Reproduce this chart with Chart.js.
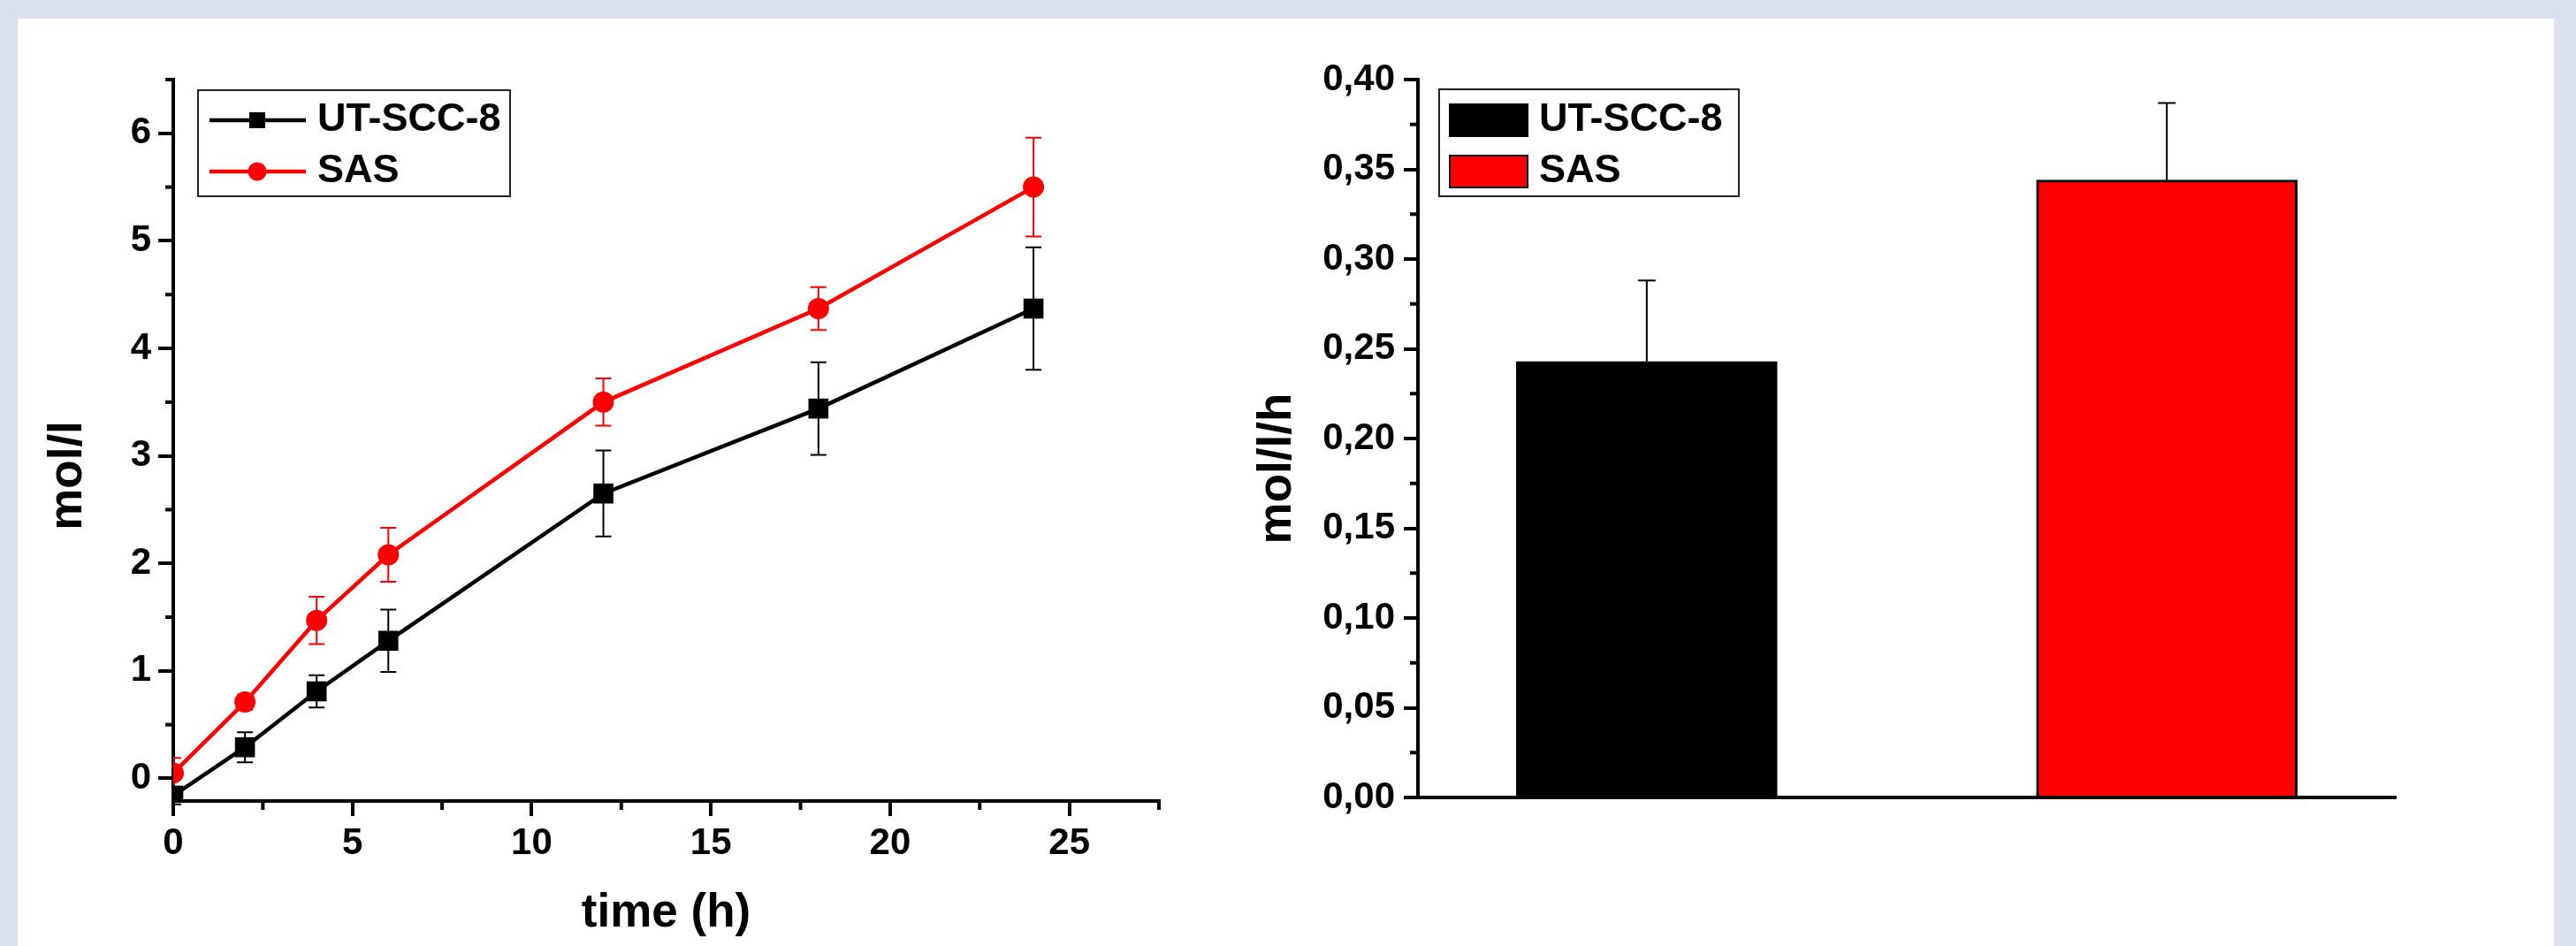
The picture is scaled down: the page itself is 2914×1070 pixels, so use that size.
<!DOCTYPE html>
<html>
<head>
<meta charset="utf-8">
<title>mol/l vs time</title>
<script src="https://cdn.jsdelivr.net/npm/chart.js@4.4.1/dist/chart.umd.min.js"></script>
<style>
  html, body { margin: 0; padding: 0; }
  body { width: 2914px; height: 1070px; background: #dae0ec; position: relative; overflow: hidden; }
  #panel { position: absolute; left: 20px; top: 21px; width: 2869px; height: 1049px; background: #fff; }
  canvas { position: absolute; top: 21px; }
  #lineChart { left: 20px; }
  #barChart { left: 1400px; }
</style>
</head>
<body>
<div id="panel"></div>
<canvas id="lineChart" width="1380" height="1049"></canvas>
<canvas id="barChart" width="1489" height="1049"></canvas>
<script>
// ---- values ----
var timeH = [0, 2, 4, 6, 12, 18, 24];
var utScc8 = [-0.16, 0.29, 0.81, 1.28, 2.65, 3.44, 4.37];
var utScc8Err = [0.08, 0.14, 0.15, 0.29, 0.40, 0.43, 0.57];
var sas = [0.05, 0.71, 1.47, 2.08, 3.50, 4.37, 5.50];
var sasErr = [0.14, 0.07, 0.22, 0.25, 0.22, 0.20, 0.46];

var timeTicks = [0, 5, 10, 15, 20, 25];
var timeMinor = [2.5, 7.5, 12.5, 17.5, 22.5, 27.5];
var concTicks = [0, 1, 2, 3, 4, 5, 6];
var concMinor = [0.5, 1.5, 2.5, 3.5, 4.5, 5.5, 6.5];

var cellLines = ['UT-SCC-8', 'SAS'];
var barPos = [1, 2];
var rate = [0.243, 0.344];
var rateErr = [0.045, 0.043];
var rateTicks = [0, 0.05, 0.10, 0.15, 0.20, 0.25, 0.30, 0.35, 0.40];
var rateMinor = [0.025, 0.075, 0.125, 0.175, 0.225, 0.275, 0.325, 0.375];

var FONT = '"Liberation Sans", Arial, sans-serif';
var RED = '#ff0000';

function pts(xs, ys) {
  return xs.map(function (x, i) { return { x: x, y: ys[i] }; });
}

// error bars (drawn under the markers)
var errorBarPlugin = {
  id: 'errorBars',
  beforeDatasetsDraw: function (chart, args, opts) {
    var ctx = chart.ctx, ys = chart.scales.y, area = chart.chartArea;
    ctx.save();
    ctx.beginPath();
    ctx.rect(area.left, 0, area.right - area.left, chart.height);
    ctx.clip();
    chart.data.datasets.forEach(function (ds, di) {
      if (!ds.errors) return;
      var meta = chart.getDatasetMeta(di);
      meta.data.forEach(function (el, i) {
        var v = ds.data[i].y, e = ds.errors[i], x = el.x;
        var top = ys.getPixelForValue(v + e);
        var bot = ys.getPixelForValue(ds.errorUpOnly ? v : v - e);
        ctx.strokeStyle = ds.errorColor;
        ctx.lineWidth = opts.width;
        ctx.beginPath();
        ctx.moveTo(x, top); ctx.lineTo(x, bot);
        ctx.moveTo(x - opts.cap, top); ctx.lineTo(x + opts.cap, top);
        if (!ds.errorUpOnly) { ctx.moveTo(x - opts.cap, bot); ctx.lineTo(x + opts.cap, bot); }
        ctx.stroke();
      });
    });
    ctx.restore();
  }
};

// minor tick marks
var minorTickPlugin = {
  id: 'minorTicks',
  afterDraw: function (chart, args, opts) {
    var ctx = chart.ctx;
    ctx.save();
    ctx.strokeStyle = '#000';
    ctx.lineWidth = 4;
    (opts.axes || []).forEach(function (a) {
      var s = chart.scales[a.id];
      a.values.forEach(function (v) {
        var p = s.getPixelForValue(v);
        ctx.beginPath();
        if (s.isHorizontal()) { ctx.moveTo(p, s.top); ctx.lineTo(p, s.top + a.len); }
        else { ctx.moveTo(s.right, p); ctx.lineTo(s.right - a.len, p); }
        ctx.stroke();
      });
    });
    ctx.restore();
  }
};

// boxed legend inside the plot
var boxLegendPlugin = {
  id: 'boxLegend',
  afterDraw: function (chart, args, o) {
    var ctx = chart.ctx, a = chart.chartArea;
    var x0 = a.left + o.dx, y0 = a.top + o.dy;
    ctx.save();
    ctx.fillStyle = '#fff';
    ctx.fillRect(x0, y0, o.w, o.h);
    ctx.strokeStyle = '#222';
    ctx.lineWidth = 2;
    ctx.strokeRect(x0, y0, o.w, o.h);
    ctx.font = 'bold 45px ' + FONT;
    ctx.textBaseline = 'middle';
    ctx.textAlign = 'left';
    chart.data.datasets.forEach(function (ds, i) {
      var cy = y0 + o.rows[i];
      if (o.kind === 'line') {
        ctx.strokeStyle = ds.borderColor;
        ctx.lineWidth = ds.borderWidth;
        ctx.beginPath();
        ctx.moveTo(x0 + 13, cy); ctx.lineTo(x0 + 122, cy);
        ctx.stroke();
        ctx.fillStyle = ds.borderColor;
        if (ds.pointStyle === 'rect') {
          ctx.fillRect(x0 + 58, cy - 9, 18, 18);
        } else {
          ctx.beginPath();
          ctx.arc(x0 + 67, cy, 10.5, 0, Math.PI * 2);
          ctx.fill();
        }
      } else {
        ctx.fillStyle = ds.backgroundColor;
        ctx.fillRect(x0 + 12, cy - 18, 88, 36);
        ctx.strokeStyle = '#000';
        ctx.lineWidth = 2;
        ctx.strokeRect(x0 + 12, cy - 18, 88, 36);
      }
      ctx.fillStyle = '#000';
      ctx.fillText(ds.label, x0 + o.textX, cy);
    });
    ctx.restore();
  }
};

// rotated y title, sitting a bit below the middle of the axis like the original
var yTitlePlugin = {
  id: 'yTitle',
  afterDraw: function (chart, args, o) {
    var ctx = chart.ctx, a = chart.chartArea;
    ctx.save();
    ctx.translate(o.x, (a.top + a.bottom) / 2 + o.dy);
    ctx.rotate(-Math.PI / 2);
    ctx.font = 'bold 53px ' + FONT;
    ctx.fillStyle = '#000';
    ctx.textAlign = 'center';
    ctx.textBaseline = 'middle';
    ctx.fillText(o.text, 0, 0);
    ctx.restore();
  }
};

var tickFont = { family: FONT, size: 42, weight: 'bold' };
var axisGrid = { display: true, drawOnChartArea: false, drawTicks: true, tickLength: 17, lineWidth: 4, tickWidth: 4, color: '#000' };
var axisBorder = { display: true, width: 4, color: '#000' };

//-------------------------------- left: mol/l over time --------------------------------
new Chart(document.getElementById('lineChart'), {
  type: 'line',
  data: {
    datasets: [
      {
        label: cellLines[0], data: pts(timeH, utScc8), errors: utScc8Err, errorColor: '#000',
        borderColor: '#000', backgroundColor: '#000', borderWidth: 4.5,
        pointStyle: 'rect', pointRadius: 16, pointBorderWidth: 0, pointBackgroundColor: '#000'
      },
      {
        label: cellLines[1], data: pts(timeH, sas), errors: sasErr, errorColor: RED,
        borderColor: RED, backgroundColor: RED, borderWidth: 4.5,
        pointStyle: 'circle', pointRadius: 12, pointBorderWidth: 0, pointBackgroundColor: RED
      }
    ]
  },
  options: {
    responsive: false,
    animation: false,
    layout: { padding: { left: 0, top: 69, right: 89, bottom: 0 } },
    plugins: {
      legend: { display: false },
      tooltip: { enabled: false },
      errorBars: { width: 2, cap: 9 },
      minorTicks: { axes: [{ id: 'x', values: timeMinor, len: 10 }, { id: 'y', values: concMinor, len: 9 }] },
      boxLegend: { kind: 'line', dx: 28, dy: 12, w: 353, h: 120, rows: [34, 92], textX: 135 },
      yTitle: { text: 'mol/l', x: 57, dy: 40 }
    },
    scales: {
      x: {
        type: 'linear', min: 0, max: 27.5,
        afterBuildTicks: function (s) { s.ticks = timeTicks.map(function (v) { return { value: v }; }); },
        afterFit: function (s) { s.height = 164; },
        grid: axisGrid, border: axisBorder,
        ticks: { color: '#000', font: tickFont, padding: 6, maxRotation: 0 },
        title: { display: true, text: 'time (h)', color: '#000', font: { family: FONT, size: 53, weight: 'bold' }, padding: { top: 0, bottom: 5 } }
      },
      y: {
        type: 'linear', min: -0.21, max: 6.5,
        afterBuildTicks: function (s) { s.ticks = concTicks.map(function (v) { return { value: v }; }); },
        afterFit: function (s) { s.width = 176; },
        grid: axisGrid, border: axisBorder,
        ticks: { color: '#000', font: tickFont, padding: 8 }
      }
    }
  },
  plugins: [errorBarPlugin, minorTickPlugin, boxLegendPlugin, yTitlePlugin]
});

//-------------------------------- right: mol/l/h --------------------------------
var barColors = ['#000', RED];
new Chart(document.getElementById('barChart'), {
  type: 'bar',
  data: {
    datasets: cellLines.map(function (name, i) {
      return {
        label: name, data: [{ x: barPos[i], y: rate[i] }], errors: [rateErr[i]], errorUpOnly: true, errorColor: '#000',
        backgroundColor: barColors[i], borderColor: '#000', borderWidth: 3, borderSkipped: 'start',
        barThickness: 295, grouped: false
      };
    })
  },
  options: {
    responsive: false,
    animation: false,
    layout: { padding: { left: 0, top: 69, right: 179, bottom: 0 } },
    plugins: {
      legend: { display: false },
      tooltip: { enabled: false },
      errorBars: { width: 2, cap: 10 },
      minorTicks: { axes: [{ id: 'y', values: rateMinor, len: 9 }] },
      boxLegend: { kind: 'bar', dx: 24, dy: 11, w: 339, h: 121, rows: [35, 93], textX: 113 },
      yTitle: { text: 'mol/l/h', x: 45, dy: 34 }
    },
    scales: {
      x: {
        type: 'linear', min: 0.56, max: 2.44, offset: false,
        afterFit: function (s) { s.height = 168; },
        grid: { display: false }, border: axisBorder,
        ticks: { display: false }
      },
      y: {
        type: 'linear', min: 0, max: 0.4,
        afterBuildTicks: function (s) { s.ticks = rateTicks.map(function (v) { return { value: v }; }); },
        afterFit: function (s) { s.width = 204; },
        grid: Object.assign({}, axisGrid, { tickLength: 16 }), border: axisBorder,
        ticks: {
          color: '#000', font: tickFont, padding: 10,
          callback: function (v) { return v.toFixed(2).replace('.', ','); }
        }
      }
    }
  },
  plugins: [errorBarPlugin, minorTickPlugin, boxLegendPlugin, yTitlePlugin]
});
</script>
</body>
</html>
